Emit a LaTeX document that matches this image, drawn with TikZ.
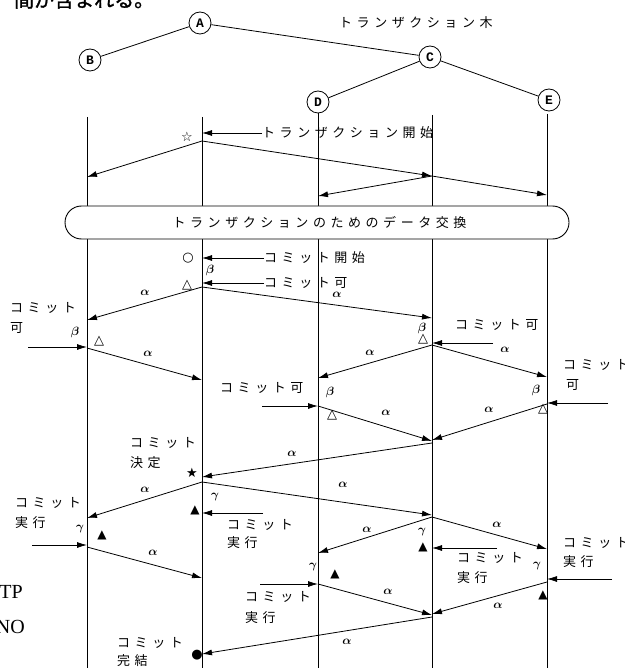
\documentclass[tikz,border=0pt]{standalone}
\usepackage{fontspec}
\usepackage{bm}
\usetikzlibrary{arrows.meta}
\newfontfamily\jp{Noto Sans CJK JP}
\newfontfamily\jpbold{Noto Sans CJK JP}[FakeBold=1.5]
\newfontfamily\jpsp{Noto Sans CJK JP}[LetterSpace=35]
\newfontfamily\symf{DejaVu Sans}
\newfontfamily\circfont{Liberation Mono}
\newfontfamily\serf{Liberation Serif}
\tikzset{
  life/.style={line width=0.8pt},
  edge/.style={line width=0.8pt},
  msg/.style={line width=0.8pt,-{Latex[length=10pt,width=6pt]}},
  lbl/.style={font=\jpsp\fontsize{13}{13}\selectfont,inner sep=0pt,anchor=west},
  grk/.style={font=\fontsize{12}{12}\selectfont,inner sep=0pt},
  symb/.style={font=\symf\fontsize{12}{12}\selectfont,inner sep=0pt},
  symbo/.style={font=\symf\fontsize{13}{13}\selectfont,inner sep=0pt},
  tnode/.style={circle,draw,line width=0.8pt,minimum size=22pt,inner sep=0pt,fill=white,
    font=\circfont\bfseries\fontsize{13}{13}\selectfont},
}
\newcommand{\al}{$\bm{\alpha}$}
\newcommand{\be}{$\bm{\beta}$}
\newcommand{\ga}{$\bm{\gamma}$}
\begin{document}
\begin{tikzpicture}[x=1pt,y=-1pt]
\fill[white] (0,0) rectangle (624,668);
\useasboundingbox (0,0) rectangle (624,668);

% page fragments
\node[font=\jpbold\fontsize{20}{20}\selectfont,anchor=base west,inner sep=0pt] (frag) at (14,7) {間が含まれる。};
\node[font=\serf\fontsize{20}{20}\selectfont,anchor=base east,inner sep=0pt] (fragtp) at (23,598) {TP};
\node[font=\serf\fontsize{20}{20}\selectfont,anchor=base east,inner sep=0pt] (fragno) at (25,633) {NO};

% transaction tree
\node[tnode] (A) at (200,23) {A};
\node[tnode] (B) at (90,60) {B};
\node[tnode] (C) at (430,57) {C};
\node[tnode] (D) at (318,102) {D};
\node[tnode] (E) at (549,100) {E};
\draw[edge] (A)--(B) (A)--(C) (C)--(D) (C)--(E);
\node[lbl] (tree) at (339,23) {トランザクション木};

% lifelines
\coordinate (Bt) at (87,117); \coordinate (Bb) at (87,668);
\coordinate (At) at (202,117); \coordinate (Ab) at (202,668);
\coordinate (Db) at (318,668);
\coordinate (Ct) at (432,115); \coordinate (Cb) at (432,668);
\coordinate (Et) at (547,114); \coordinate (Eb) at (547,668);
\draw[life] (Bt)--(Bb) (At)--(Ab) (D.south)--(Db) (Ct)--(Cb) (Et)--(Eb);

% transaction start
\node[lbl] (tsl) at (262,133) {トランザクション開始};
\coordinate (tsA) at (202,133);
\draw[msg] (tsl.west)--(tsA);
\node[symbo] (st0) at (187,137) {☆};
\coordinate (a0) at (202,141);
\coordinate (b0) at (87,177);
\coordinate (c0) at (432,176);
\coordinate (d0) at (318,196);
\coordinate (e0) at (547,195);
\draw[msg] (a0)--(b0);
\draw[msg] (a0)--(c0);
\draw[msg] (c0)--(d0);
\draw[msg] (c0)--(e0);

% data exchange box
\node[draw,fill=white,line width=0.9pt,rounded corners=16.5pt,minimum width=504pt,minimum height=33pt,
  inner sep=0pt,font=\jpsp\fontsize{13}{13}\selectfont] (box) at (317,222.5) {\kern5pt トランザクションのためのデータ交換};

% commit start
\node[symbo] (o1) at (188,258) {○};
\node[lbl] (csl) at (264,258) {コミット開始};
\coordinate (csA) at (202,258);
\draw[msg] (csl.west)--(csA);
\node[grk] (be1) at (210,270) {\be};
\node[lbl] (cvl) at (264,283) {コミット可};
\coordinate (cvA) at (202,283);
\draw[msg] (cvl.west)--(cvA);
\node[symbo] (t1) at (187,285) {△};

\coordinate (a1) at (202,287);
\coordinate (b1r) at (87,320);
\coordinate (c1r) at (432,318);
\draw[msg] (a1)--(b1r);
\draw[msg] (a1)--(c1r);
\node[grk] (al1) at (145,293) {\al};
\node[grk] (al2) at (337,295) {\al};

% B commit ok
\node[lbl] (bl1) at (10,308) {コミット};
\node[lbl] (bl2) at (10,328) {可};
\node[grk] (be2) at (75,332) {\be};
\node[symbo] (t2) at (99,341) {△};
\coordinate (bin1) at (28,347);
\coordinate (bv) at (87,347);
\draw[msg] (bin1)--(bv);
\coordinate (b1) at (87,348);
\coordinate (a1r) at (202,380);
\draw[msg] (b1)--(a1r);
\node[grk] (al3) at (148,354) {\al};

% C commit ok
\node[grk] (be3) at (422,328) {\be};
\node[symbo] (t3) at (423,339) {△};
\node[lbl] (cl1) at (455,325) {コミット可};
\coordinate (cin1) at (493,343);
\coordinate (cv) at (432,343);
\draw[msg] (cin1)--(cv);
\coordinate (c1) at (432,345);
\coordinate (d1r) at (318,378);
\coordinate (e1r) at (547,377);
\draw[msg] (c1)--(d1r);
\draw[msg] (c1)--(e1r);
\node[grk] (al4) at (370,353) {\al};
\node[grk] (al5) at (505,350) {\al};

% D commit ok
\node[lbl] (dl1) at (220,388) {コミット可};
\coordinate (din1) at (262,406);
\coordinate (dv) at (318,406);
\draw[msg] (din1)--(dv);
\node[grk] (be4) at (330,392) {\be};
\node[symbo] (t4) at (332,415) {△};

% E commit ok
\node[lbl] (el1) at (563,365) {コミット};
\node[lbl] (el2) at (566,385) {可};
\node[grk] (be5) at (536,390) {\be};
\node[symbo] (t5) at (543,409) {△};
\coordinate (ein1) at (608,403);
\coordinate (ev) at (547,403);
\draw[msg] (ein1)--(ev);

\coordinate (d1) at (318,406);
\coordinate (e1) at (547,404);
\coordinate (c2r) at (432,441);
\coordinate (c2s) at (432,440);
\draw[msg] (d1)--(c2r);
\draw[msg] (e1)--(c2s);
\node[grk] (al6) at (386,413) {\al};
\node[grk] (al7) at (489,410) {\al};
\coordinate (c2) at (432,443);
\coordinate (a2r) at (202,477);
\draw[msg] (c2)--(a2r);
\node[grk] (al8) at (292,454) {\al};

% commit decision
\node[lbl] (kl1) at (130,443) {コミット};
\node[lbl] (kl2) at (130,463) {決定};
\node[symbo] (st1) at (192,473) {★};
\coordinate (a2) at (202,482);
\coordinate (b2r) at (87,518);
\coordinate (c3r) at (432,515);
\draw[msg] (a2)--(b2r);
\draw[msg] (a2)--(c3r);
\node[grk] (al9) at (145,490) {\al};
\node[grk] (al10) at (343,485) {\al};

% A commit exec
\node[grk] (ga1) at (215,497) {\ga};
\node[symb] (f1) at (195,510) {▲};
\node[lbl] (ax1) at (227,525) {コミット};
\node[lbl] (ax2) at (227,543) {実行};
\coordinate (ain) at (263,513);
\coordinate (ax) at (202,513);
\draw[msg] (ain)--(ax);

% B commit exec
\node[lbl] (bx1) at (15,503) {コミット};
\node[lbl] (bx2) at (15,523) {実行};
\node[grk] (ga2) at (80,529) {\ga};
\node[symb] (f2) at (102,535) {▲};
\coordinate (bin2) at (32,545);
\coordinate (bx) at (87,545);
\draw[msg] (bin2)--(bx);
\coordinate (b2) at (87,547);
\coordinate (a3r) at (202,578);
\draw[msg] (b2)--(a3r);
\node[grk] (al11) at (153,553) {\al};

% C to D,E
\coordinate (c3) at (432,517);
\coordinate (d3r) at (318,553);
\coordinate (e3r) at (547,549);
\draw[msg] (c3)--(d3r);
\draw[msg] (c3)--(e3r);
\node[grk] (al12) at (367,530) {\al};
\node[grk] (al13) at (497,525) {\al};

% C commit exec
\node[grk] (ga3) at (422,532) {\ga};
\node[symb] (f3) at (423,547) {▲};
\coordinate (cin2) at (497,548);
\coordinate (cx) at (432,548);
\draw[msg] (cin2)--(cx);
\node[lbl] (cx1) at (457,558) {コミット};
\node[lbl] (cx2) at (457,578) {実行};

% E commit exec
\node[lbl] (ex1) at (563,543) {コミット};
\node[lbl] (ex2) at (563,562) {実行};
\node[grk] (ga4) at (537,566) {\ga};
\node[symb] (f4) at (543,595) {▲};
\coordinate (ein2) at (612,579);
\coordinate (ex) at (547,579);
\draw[msg] (ein2)--(ex);

% D commit exec
\node[grk] (ga5) at (313,567) {\ga};
\node[symb] (f5) at (335,574) {▲};
\coordinate (din2) at (260,584);
\coordinate (dx) at (318,584);
\draw[msg] (din2)--(dx);
\node[lbl] (dx1) at (245,597) {コミット};
\node[lbl] (dx2) at (245,618) {実行};

\coordinate (d2) at (318,584);
\coordinate (e2) at (547,582);
\coordinate (c4r) at (432,615);
\coordinate (c4s) at (432,614);
\draw[msg] (d2)--(c4r);
\draw[msg] (e2)--(c4s);
\node[grk] (al14) at (388,592) {\al};
\node[grk] (al15) at (498,606) {\al};
\coordinate (c4) at (432,617);
\coordinate (a4r) at (202,654);
\draw[msg] (c4)--(a4r);
\node[grk] (al16) at (347,642) {\al};

% commit complete
\node[lbl] (fl1) at (117,643) {コミット};
\node[lbl] (fl2) at (117,661) {完結};
\node[symbo] (dot) at (197,655) {●};
\end{tikzpicture}
\end{document}
